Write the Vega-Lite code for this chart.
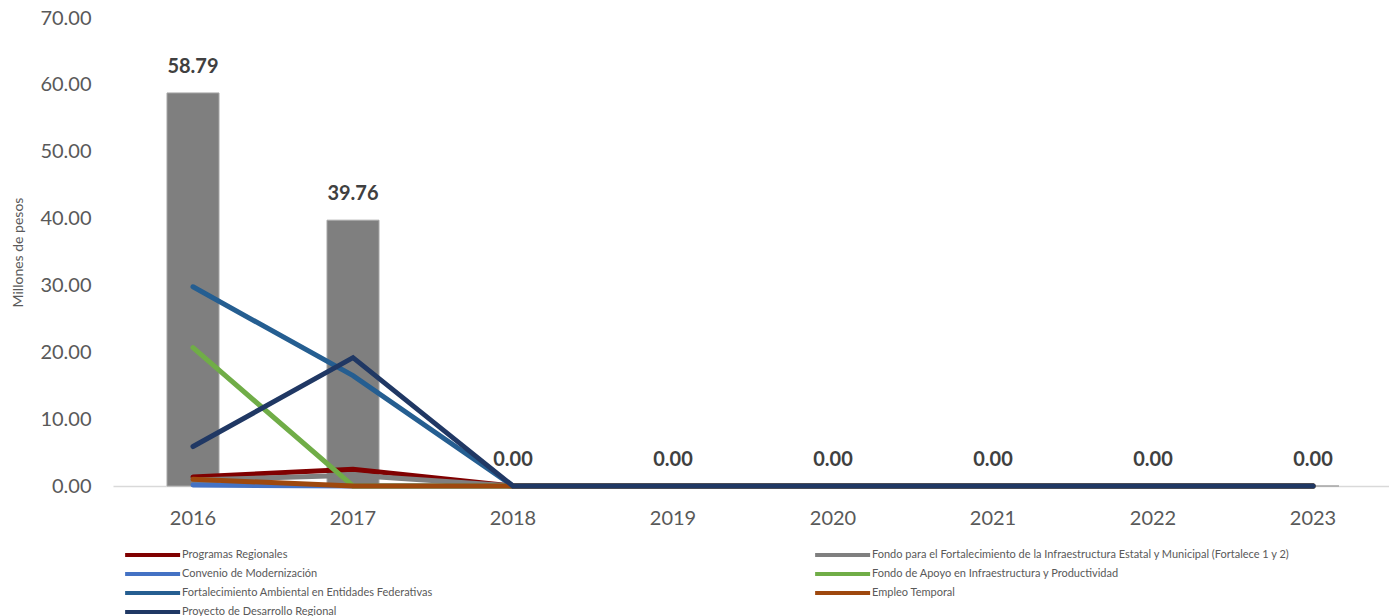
{
  "$schema": "https://vega.github.io/schema/vega-lite/v6.json",
  "autosize": "none",
  "width": 1280,
  "height": 468,
  "padding": {"left": 113, "top": 18, "right": 0, "bottom": 130},
  "background": "white",
  "config": {
    "font": "Lato",
    "view": {"stroke": null}
  },
  "datasets": {
    "bars": [
      {"year": "2016", "total": 58.79},
      {"year": "2017", "total": 39.76},
      {"year": "2018", "total": 0},
      {"year": "2019", "total": 0},
      {"year": "2020", "total": 0},
      {"year": "2021", "total": 0},
      {"year": "2022", "total": 0},
      {"year": "2023", "total": 0}
    ],
    "lines": [
      {"year": "2016", "programa": "Programas Regionales", "value": 1.35},
      {"year": "2017", "programa": "Programas Regionales", "value": 2.5},
      {"year": "2018", "programa": "Programas Regionales", "value": 0},
      {"year": "2019", "programa": "Programas Regionales", "value": 0},
      {"year": "2020", "programa": "Programas Regionales", "value": 0},
      {"year": "2021", "programa": "Programas Regionales", "value": 0},
      {"year": "2022", "programa": "Programas Regionales", "value": 0},
      {"year": "2023", "programa": "Programas Regionales", "value": 0},
      {"year": "2016", "programa": "Fondo para el Fortalecimiento de la Infraestructura Estatal y Municipal (Fortalece 1 y 2)", "value": 0.9},
      {"year": "2017", "programa": "Fondo para el Fortalecimiento de la Infraestructura Estatal y Municipal (Fortalece 1 y 2)", "value": 1.6},
      {"year": "2018", "programa": "Fondo para el Fortalecimiento de la Infraestructura Estatal y Municipal (Fortalece 1 y 2)", "value": 0},
      {"year": "2019", "programa": "Fondo para el Fortalecimiento de la Infraestructura Estatal y Municipal (Fortalece 1 y 2)", "value": 0},
      {"year": "2020", "programa": "Fondo para el Fortalecimiento de la Infraestructura Estatal y Municipal (Fortalece 1 y 2)", "value": 0},
      {"year": "2021", "programa": "Fondo para el Fortalecimiento de la Infraestructura Estatal y Municipal (Fortalece 1 y 2)", "value": 0},
      {"year": "2022", "programa": "Fondo para el Fortalecimiento de la Infraestructura Estatal y Municipal (Fortalece 1 y 2)", "value": 0},
      {"year": "2023", "programa": "Fondo para el Fortalecimiento de la Infraestructura Estatal y Municipal (Fortalece 1 y 2)", "value": 0},
      {"year": "2016", "programa": "Convenio de Modernización", "value": 0.15},
      {"year": "2017", "programa": "Convenio de Modernización", "value": 0},
      {"year": "2018", "programa": "Convenio de Modernización", "value": 0},
      {"year": "2019", "programa": "Convenio de Modernización", "value": 0},
      {"year": "2020", "programa": "Convenio de Modernización", "value": 0},
      {"year": "2021", "programa": "Convenio de Modernización", "value": 0},
      {"year": "2022", "programa": "Convenio de Modernización", "value": 0},
      {"year": "2023", "programa": "Convenio de Modernización", "value": 0},
      {"year": "2016", "programa": "Fondo de Apoyo en Infraestructura y Productividad", "value": 20.7},
      {"year": "2017", "programa": "Fondo de Apoyo en Infraestructura y Productividad", "value": 0},
      {"year": "2018", "programa": "Fondo de Apoyo en Infraestructura y Productividad", "value": 0},
      {"year": "2019", "programa": "Fondo de Apoyo en Infraestructura y Productividad", "value": 0},
      {"year": "2020", "programa": "Fondo de Apoyo en Infraestructura y Productividad", "value": 0},
      {"year": "2021", "programa": "Fondo de Apoyo en Infraestructura y Productividad", "value": 0},
      {"year": "2022", "programa": "Fondo de Apoyo en Infraestructura y Productividad", "value": 0},
      {"year": "2023", "programa": "Fondo de Apoyo en Infraestructura y Productividad", "value": 0},
      {"year": "2016", "programa": "Fortalecimiento Ambiental en Entidades Federativas", "value": 29.8},
      {"year": "2017", "programa": "Fortalecimiento Ambiental en Entidades Federativas", "value": 16.5},
      {"year": "2018", "programa": "Fortalecimiento Ambiental en Entidades Federativas", "value": 0},
      {"year": "2019", "programa": "Fortalecimiento Ambiental en Entidades Federativas", "value": 0},
      {"year": "2020", "programa": "Fortalecimiento Ambiental en Entidades Federativas", "value": 0},
      {"year": "2021", "programa": "Fortalecimiento Ambiental en Entidades Federativas", "value": 0},
      {"year": "2022", "programa": "Fortalecimiento Ambiental en Entidades Federativas", "value": 0},
      {"year": "2023", "programa": "Fortalecimiento Ambiental en Entidades Federativas", "value": 0},
      {"year": "2016", "programa": "Empleo Temporal", "value": 1.0},
      {"year": "2017", "programa": "Empleo Temporal", "value": 0},
      {"year": "2018", "programa": "Empleo Temporal", "value": 0},
      {"year": "2019", "programa": "Empleo Temporal", "value": 0},
      {"year": "2020", "programa": "Empleo Temporal", "value": 0},
      {"year": "2021", "programa": "Empleo Temporal", "value": 0},
      {"year": "2022", "programa": "Empleo Temporal", "value": 0},
      {"year": "2023", "programa": "Empleo Temporal", "value": 0},
      {"year": "2016", "programa": "Proyecto de Desarrollo Regional", "value": 5.9},
      {"year": "2017", "programa": "Proyecto de Desarrollo Regional", "value": 19.2},
      {"year": "2018", "programa": "Proyecto de Desarrollo Regional", "value": 0},
      {"year": "2019", "programa": "Proyecto de Desarrollo Regional", "value": 0},
      {"year": "2020", "programa": "Proyecto de Desarrollo Regional", "value": 0},
      {"year": "2021", "programa": "Proyecto de Desarrollo Regional", "value": 0},
      {"year": "2022", "programa": "Proyecto de Desarrollo Regional", "value": 0},
      {"year": "2023", "programa": "Proyecto de Desarrollo Regional", "value": 0}
    ]
  },
  "encoding": {
    "x": {
      "field": "year",
      "type": "ordinal",
      "scale": {"paddingInner": 0.675, "paddingOuter": 0.3375},
      "axis": {
        "title": null,
        "labelAngle": 0,
        "labelFontSize": 20,
        "labelColor": "#595959",
        "labelPadding": 22,
        "ticks": false,
        "domainColor": "#D9D9D9",
        "domainWidth": 1.5
      }
    }
  },
  "layer": [
    {
      "data": {"name": "bars"},
      "mark": {"type": "bar", "color": "#7F7F7F", "stroke": "#A6A6A6", "strokeWidth": 1},
      "encoding": {
        "y": {
          "field": "total",
          "type": "quantitative",
          "scale": {"domain": [0, 70], "nice": false},
          "axis": {
            "title": "Millones de pesos",
            "titleFontSize": 14,
            "titleFontWeight": "normal",
            "titleColor": "#595959",
            "titlePadding": 14,
            "values": [0, 10, 20, 30, 40, 50, 60, 70],
            "format": ".2f",
            "labelFontSize": 20,
            "labelColor": "#595959",
            "labelPadding": 22,
            "ticks": false,
            "domain": false,
            "grid": false
          }
        }
      }
    },
    {
      "data": {"name": "lines"},
      "mark": {"type": "line", "strokeWidth": 5, "strokeCap": "round", "strokeJoin": "miter"},
      "encoding": {
        "y": {"field": "value", "type": "quantitative"},
        "color": {
          "field": "programa",
          "type": "nominal",
          "sort": [
            "Programas Regionales",
            "Convenio de Modernización",
            "Fortalecimiento Ambiental en Entidades Federativas",
            "Proyecto de Desarrollo Regional",
            "Fondo para el Fortalecimiento de la Infraestructura Estatal y Municipal (Fortalece 1 y 2)",
            "Fondo de Apoyo en Infraestructura y Productividad",
            "Empleo Temporal"
          ],
          "scale": {
            "domain": [
              "Programas Regionales",
              "Convenio de Modernización",
              "Fortalecimiento Ambiental en Entidades Federativas",
              "Proyecto de Desarrollo Regional",
              "Fondo para el Fortalecimiento de la Infraestructura Estatal y Municipal (Fortalece 1 y 2)",
              "Fondo de Apoyo en Infraestructura y Productividad",
              "Empleo Temporal"
            ],
            "range": ["#800000", "#4472C4", "#255E91", "#203864", "#7F7F7F", "#70AD47", "#9E480E"]
          },
          "legend": {
            "title": null,
            "orient": "none",
            "legendX": 10,
            "legendY": 528,
            "columns": 2,
            "gridAlign": "all",
            "columnPadding": 207,
            "rowPadding": 2,
            "symbolType": "M-1,0H7",
            "symbolSize": 189,
            "symbolStrokeWidth": 4,
            "labelFontSize": 11,
            "labelColor": "#595959",
            "labelOffset": 41,
            "labelLimit": 600
          }
        }
      }
    },
    {
      "data": {"name": "bars"},
      "mark": {"type": "text", "fontSize": 20, "fontWeight": "bold", "color": "#404040", "dy": -26, "baseline": "middle"},
      "encoding": {
        "y": {"field": "total", "type": "quantitative"},
        "text": {"field": "total", "type": "quantitative", "format": ".2f"}
      }
    }
  ]
}
